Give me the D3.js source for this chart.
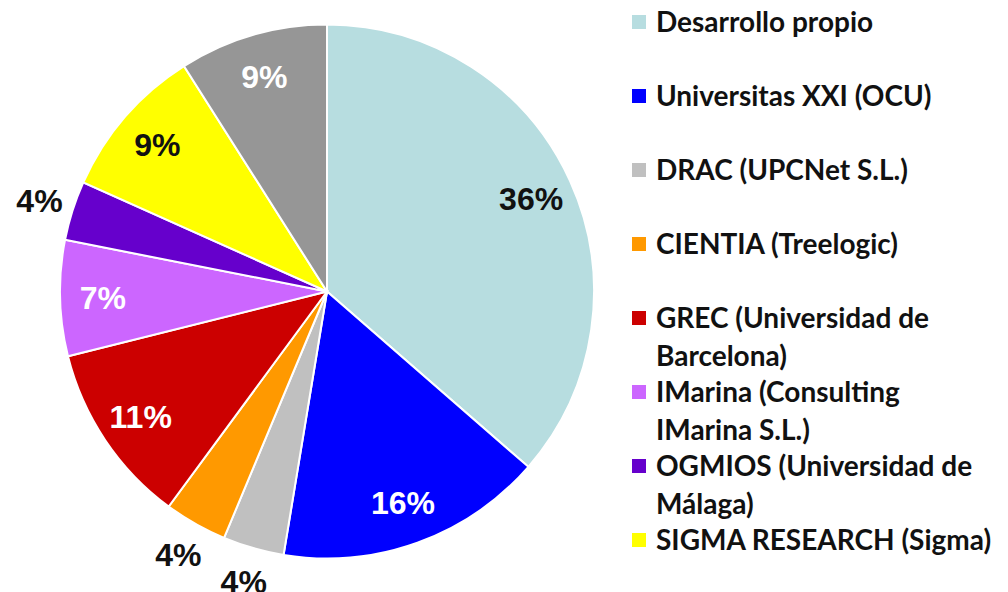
<!DOCTYPE html>
<html>
<head>
<meta charset="utf-8">
<script src="https://cdn.jsdelivr.net/npm/d3@7"></script>
<style>
  body { margin: 0; background: #fff; }
  .lbl { font-family: "Liberation Sans", Arial, sans-serif; font-weight: bold; font-size: 32px; }
  .legend text { font-family: Lato, "Open Sans", sans-serif; font-weight: bold; font-size: 28px; fill: #111; }
</style>
</head>
<body>
<script>
// data (clockwise from 12 o'clock)
var categories = ["Desarrollo propio", "Universitas XXI (OCU)", "DRAC (UPCNet S.L.)", "CIENTIA (Treelogic)",
  "GREC (Universidad de\nBarcelona)", "IMarina (Consulting\nIMarina S.L.)", "OGMIOS (Universidad de\nMálaga)",
  "SIGMA RESEARCH (Sigma)", "Otros"];
var values = [36.4, 16.2, 3.7, 3.8, 11.0, 7.0, 3.6, 9.3, 9.0];
var colors = ["#b7dde0", "#0000ff", "#c0c0c0", "#ff9900", "#cc0000", "#cc66ff", "#6600cc", "#ffff00", "#969696"];
var labelColors = ["#111", "#fff", "#111", "#111", "#fff", "#fff", "#111", "#111", "#fff"];
var outsideLabel = [false, false, true, true, false, false, true, false, false];
var legendCount = 8; // the last slice has no legend entry in the original

var width = 1008, height = 592;
var cx = 327, cy = 291.5, r = 267;

var svg = d3.select("body").append("svg")
    .attr("width", width)
    .attr("height", height);

var pie = d3.pie().sort(null).value(function(d) { return d; });
var arcs = pie(values);
var arc = d3.arc().innerRadius(0).outerRadius(r);
var inArc = d3.arc().innerRadius(r * 0.84).outerRadius(r * 0.84);
var outArc = d3.arc().innerRadius(r * 1.13).outerRadius(r * 1.13);

var g = svg.append("g").attr("transform", "translate(" + cx + "," + cy + ")");

g.selectAll("path")
    .data(arcs)
    .enter().append("path")
    .attr("d", arc)
    .attr("fill", function(d, i) { return colors[i]; })
    .attr("stroke", "#fff")
    .attr("stroke-width", 2);

g.selectAll("text.lbl")
    .data(arcs)
    .enter().append("text")
    .attr("class", "lbl")
    .attr("transform", function(d, i) {
        var p = (outsideLabel[i] ? outArc : inArc).centroid(d);
        return "translate(" + p[0] + "," + p[1] + ")";
    })
    .attr("text-anchor", "middle")
    .attr("dy", "0.36em")
    .attr("fill", function(d, i) { return labelColors[i]; })
    .text(function(d, i) { return Math.round(values[i]) + "%"; });

// legend
var legendY = d3.scaleLinear().domain([0, legendCount - 1]).range([32, 550]);
var lg = svg.append("g").attr("class", "legend");
var items = lg.selectAll("g")
    .data(categories.slice(0, legendCount))
    .enter().append("g")
    .attr("transform", function(d, i) { return "translate(632," + legendY(i) + ")"; });

items.append("rect")
    .attr("x", 0).attr("y", -17)
    .attr("width", 14).attr("height", 14)
    .attr("fill", function(d, i) { return colors[i]; });

items.append("text")
    .attr("x", 24)
    .selectAll("tspan")
    .data(function(d) { return d.split("\n"); })
    .enter().append("tspan")
    .attr("x", 24)
    .attr("y", function(d, j) { return j * 38; })
    .text(function(d) { return d; });
</script>
</body>
</html>
